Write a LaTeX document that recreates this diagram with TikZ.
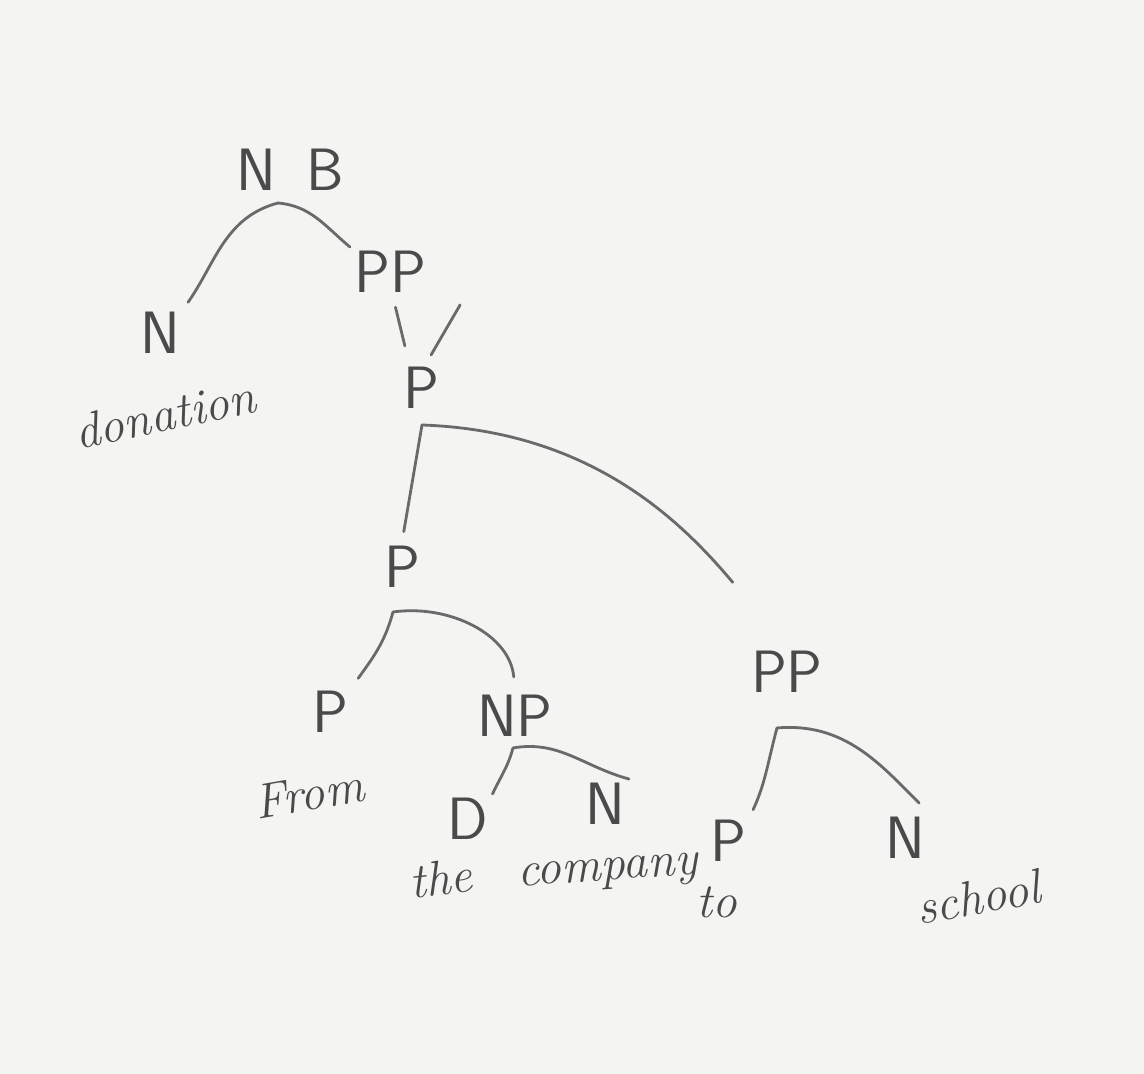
\documentclass[tikz,border=0pt]{standalone}
\usetikzlibrary{positioning,calc}
\definecolor{paperc}{HTML}{F4F4F3}
\definecolor{pencilc}{HTML}{4A4A4A}
\definecolor{linec}{HTML}{6A6A6A}
\tikzset{
  cat/.style ={text=pencilc,font=\sffamily\fontsize{17}{19}\selectfont,inner sep=1pt},
  wrd/.style ={text=pencilc,font=\itshape\fontsize{14}{16}\selectfont,inner sep=1pt},
  br/.style  ={draw=linec,line width=.8pt,line cap=round},
}

\begin{document}
\begin{tikzpicture}[x=0.01cm,y=-0.01cm]
\fill[paperc] (0,0) rectangle (1144,1074);
\useasboundingbox (0,0) rectangle (1144,1074);

% ---------- labels ----------------------------------------------------
\node[cat] (nb)  at (290,170) {N\enspace B};
\node[cat] (nv)  at (160,333) {N};
\node[wrd,rotate=12] (wdon) at (165,414) {donation};
\node[cat] (pp1) at (390,272) {PP};
\node[cat] (p1)  at (421,388) {P};
\node[cat] (p2)  at (402,567) {P};
\node[cat] (p3)  at (330,712) {P};
\node[wrd,rotate=10] (wfrom) at (309,794) {From};
\node[cat] (np)  at (515,716) {NP};
\node[cat] (d)   at (468,819) {D};
\node[wrd,rotate=6] (wthe) at (441,878) {the};
\node[cat] (n2)  at (605,804) {N};
\node[wrd,rotate=4] (wcomp) at (608,874) {company};
\node[cat] (pp2) at (787,672) {PP};
\node[cat] (p4)  at (728,841) {P};
\node[wrd] (wto) at (717,902) {to};
\node[cat] (n3)  at (905,838) {N};
\node[wrd,rotate=10] (wsch) at (978,897) {school};

% ---------- branch points ---------------------------------------------
\coordinate (nbj)  at ($(nb)+(-12,33)$);
\coordinate (p1j)  at ($(p1)+(1,37)$);
\coordinate (p2j)  at ($(p2)+(-9,45)$);
\coordinate (npj)  at ($(np)+(-2,32)$);
\coordinate (pp2j) at ($(pp2)+(-10,56)$);

% ---------- branches --------------------------------------------------
\draw[br,shorten >=2pt] (nbj) to[out=195,in=55] (nv.north east);
\draw[br] (nbj) to[out=-5,in=140] (pp1.north west);
\draw[br,shorten <=3pt,shorten >=5pt] ($(pp1.south)+(3,0)$) -- ($(p1.north)+(-12,0)$);
\draw[br] ($(pp1.south east)+(30,8)$) -- ($(p1.north)+(10,-8)$);
\draw[br,shorten >=3pt] (p1j) -- (p2.north);
\draw[br,shorten >=24pt] (p1j) to[out=-2,in=130] (pp2.north);
\draw[br,shorten >=3pt] (p2j) to[out=-105,in=55] (p3.north east);
\draw[br,shorten >=4pt] (p2j) to[out=8,in=95] (np.north);
\draw[br] (npj) to[out=-105,in=65] (d.north east);
\draw[br] (npj) to[out=10,in=165] (n2.north east);
\draw[br,shorten >=2pt] (pp2j) to[out=-105,in=65] (p4.north east);
\draw[br,shorten >=4pt] (pp2j) to[out=5,in=135] (n3.north east);
\end{tikzpicture}
\end{document}
